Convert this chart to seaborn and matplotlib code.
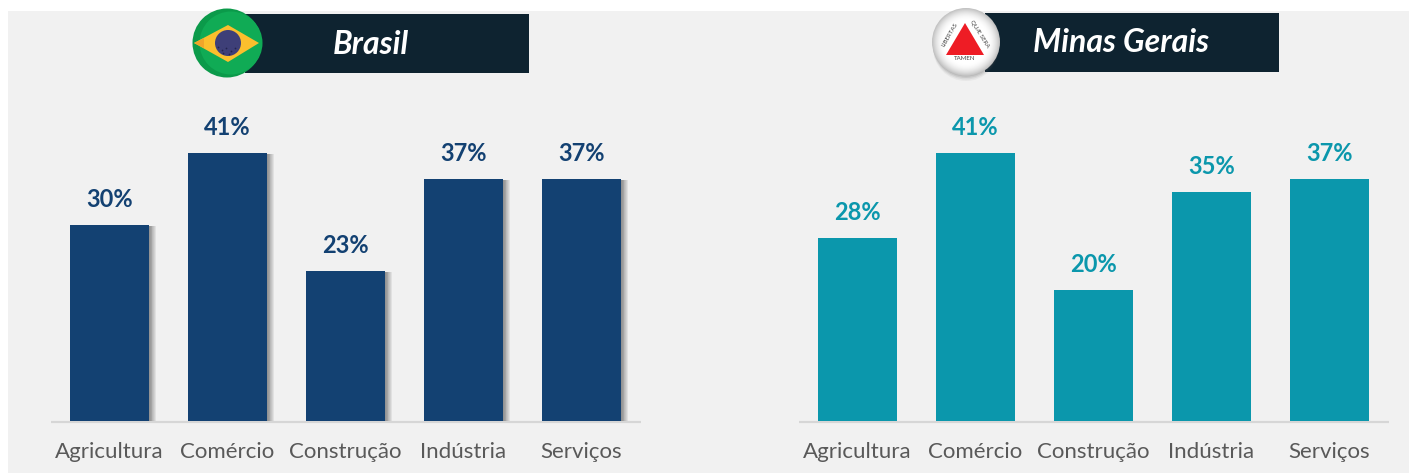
import numpy as np
import pandas as pd
import matplotlib
matplotlib.use("Agg")
import matplotlib.pyplot as plt
import matplotlib.patheffects as pe
from matplotlib.patches import Rectangle, Circle, Polygon, Wedge
import seaborn as sns

sectors = ["Agricultura", "Comércio", "Construção", "Indústria", "Serviços"]
brasil_pct = [30, 41, 23, 37, 37]
minas_pct = [28, 41, 20, 35, 37]

NAVY = "#134172"
TEAL = "#0B97AC"
PANEL = "#F1F1F1"
BANNER = "#0E2330"
W, H = 1409, 473

sns.set_theme(style="white")
plt.rcParams["font.family"] = ["Lato", "DejaVu Sans"]

fig = plt.figure(figsize=(W / 100, H / 100), dpi=100, facecolor="white")


def axes_from_pixels(x0, y0, x1, y1):
    return fig.add_axes([x0 / W, 1 - y1 / H, (x1 - x0) / W, (y1 - y0) / H])


# Page background and drawing layer addressed in pixels
page = axes_from_pixels(0, 0, W, H)
page.set_xlim(0, W)
page.set_ylim(H, 0)
page.axis("off")
page.add_patch(Rectangle((8, 11), W - 8, H - 11, fc=PANEL, ec="none"))
page.plot([50.5, 640.5], [422, 422], color="#D6D6D6", lw=1.6, solid_capstyle="butt")
page.plot([798.5, 1388.5], [422, 422], color="#D6D6D6", lw=1.6, solid_capstyle="butt")


def draw_panel(x0, x1, values, color, soft_shadow):
    ax = axes_from_pixels(x0, 80, x1, 421)
    ax.patch.set_alpha(0)
    frame = pd.DataFrame({"setor": sectors, "pct": values})
    sns.barplot(data=frame, x="setor", y="pct", color=color, saturation=1,
                width=0.665, linewidth=0, ax=ax, zorder=3)
    ax.set_xlim(-0.5, 4.5)
    ax.set_ylim(0, 341 / 6.54)
    if soft_shadow:
        # Soft drop shadow built from stacked translucent offsets
        for bar in ax.patches:
            bar.set_path_effects(
                [pe.SimplePatchShadow(offset=(k, -0.9), shadow_rgbFace="#444444", alpha=0.09, rho=1)
                 for k in np.arange(5.0, 0.4, -0.6)] + [pe.Normal()]
            )
    ax.set_xlabel("")
    ax.set_ylabel("")
    ax.set_yticks([])
    ax.tick_params(axis="x", length=0, pad=15, labelsize=16, labelcolor="#595959")
    for side in ax.spines.values():
        side.set_visible(False)
    for bar, v in zip(ax.patches, values):
        ax.annotate(f"{v}%", (bar.get_x() + bar.get_width() / 2, v),
                    xytext=(0, 10), textcoords="offset points", ha="center", va="bottom",
                    fontsize=17, fontweight="bold", color=color)
    return ax


draw_panel(50.5, 640.5, brasil_pct, NAVY, True)
draw_panel(798.5, 1388.5, minas_pct, TEAL, False)

# Overlay for the title banners and emblems, above the charts
top = axes_from_pixels(0, 0, W, H)
top.set_xlim(0, W)
top.set_ylim(H, 0)
top.axis("off")
top.patch.set_alpha(0)

top.add_patch(Rectangle((245, 14), 284, 59, fc=BANNER, ec="none"))
top.add_patch(Rectangle((985, 13), 294, 59, fc=BANNER, ec="none"))
top.text(371, 44, "Brasil", color="white", fontsize=23, fontweight="bold",
         fontstyle="italic", ha="center", va="center")
top.text(1121, 43, "Minas Gerais", color="white", fontsize=23, fontweight="bold",
         fontstyle="italic", ha="center", va="center")

# Brazilian flag badge
top.add_patch(Circle((227, 43), 34.5, fc="#0B9A4A", ec="none"))
top.add_patch(Circle((231, 43), 31.5, fc="#10AB55", ec="none"))
top.add_patch(Polygon([(194, 43), (228, 25), (259, 43), (228, 62)], fc="#FBBF2D", ec="none"))
top.add_patch(Polygon([(194, 43), (204, 38), (204, 48)], fc="#F0A52A", ec="none"))
top.add_patch(Circle((228, 43), 13, fc="#3E3F78", ec="none"))
globe = Circle((228, 43), 13, transform=top.transData)
band = Wedge((234, 62), 27, 98, 165, width=3.2, fc="#F2F2F2", ec="none")
top.add_patch(band)
band.set_clip_path(globe)
star_x = [218, 222, 226, 231, 235, 223, 229]
star_y = [47, 50, 48, 51, 48, 53, 54]
top.scatter(star_x, star_y, s=1.6, color="#23244F", linewidths=0)

# Minas Gerais emblem: shaded sphere with a red triangle
yy, xx = np.mgrid[-1:1:200j, -1:1:200j]
r = np.hypot(xx, yy)
shade = 1.0 - 0.25 * np.clip((r - 0.62) / 0.38, 0, 1) ** 2
for k, a in [(6, 0.06), (4.5, 0.09), (3, 0.12), (1.5, 0.14)]:
    top.add_patch(Circle((966, 42 + k), 33, fc="#555555", alpha=a, ec="none"))
sphere = top.imshow(shade, extent=(932, 1000, 76, 8), cmap="gray", vmin=0, vmax=1,
                    aspect="auto", zorder=2, interpolation="bilinear")
sphere.set_clip_path(Circle((966, 42), 34, transform=top.transData))
top.set_xlim(0, W)
top.set_ylim(H, 0)
top.add_patch(Polygon([(965, 23), (946, 55), (984, 55)], fc="#EE1C25", ec="none", zorder=3))
motto = dict(color="#444444", fontsize=4.4, ha="center", va="center", zorder=4)
top.text(950, 35, "LIBERTAS", rotation=60, **motto)
top.text(979, 34, "QUÆ SERA", rotation=-58, **motto)
top.text(965, 58.5, "TAMEN", **motto)

fig.savefig("out.png", dpi=100, facecolor="white")
